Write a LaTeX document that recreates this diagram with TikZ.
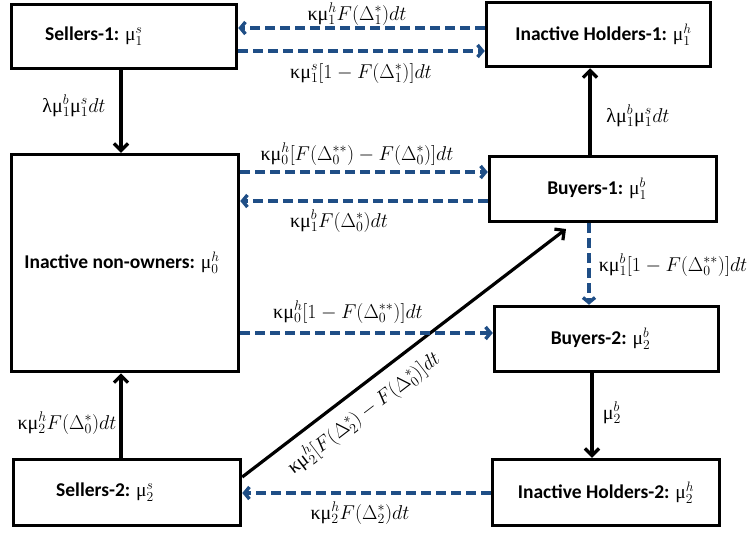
\RequirePackage{fix-cm}
\documentclass[tikz,border=0pt]{standalone}
\usepackage{fontspec}
\setmainfont{Carlito}
\newfontfamily\grk{Liberation Serif}
\usetikzlibrary{arrows.meta,calc}
\definecolor{dblue}{HTML}{1F4E86}
\newcommand\Gm{\mbox{\mdseries\grk μ}}
\newcommand\Gk{\mbox{\mdseries\grk κ}}
\newcommand\Gl{\mbox{\mdseries\grk λ}}
\tikzset{
  box/.style={draw=black, line width=3.5pt, fill=white, inner sep=0pt},
  boxtext/.style={font=\fontsize{19.5}{21}\selectfont\bfseries},
  lab/.style={font=\fontsize{20}{22}\selectfont, inner sep=1pt},
  solidarrow/.style={line width=3.2pt, -{Straight Barb[length=7pt,width=14pt]}},
  dasharrow/.style={line width=3.4pt, draw=dblue, dash pattern=on 10pt off 5pt, -{Straight Barb[length=5pt,width=12pt]}},
}
\begin{document}
\begin{tikzpicture}[x=1pt,y=-1pt]
\useasboundingbox (0,0) rectangle (753,536);
\fill[white] (0,0) rectangle (753,536);
% boxes
\node[box, minimum width=225pt, minimum height=64pt,
  label={[boxtext, xshift=-30pt]center:Sellers-1: $\Gm_1^s$}] (s1) at (124,36.5) {};
\node[box, minimum width=224pt, minimum height=64pt,
  label={[boxtext, xshift=5pt]center:Inactive Holders-1: $\Gm_1^h$}] (ih1) at (598.5,34.5) {};
\node[box, minimum width=227pt, minimum height=217pt,
  label={[boxtext, xshift=-3pt]center:Inactive non-owners: $\Gm_0^h$}] (no) at (125,263) {};
\node[box, minimum width=227pt, minimum height=65pt,
  label={[boxtext, xshift=-6pt]center:Buyers-1: $\Gm_1^b$}] (b1) at (603,189) {};
\node[box, minimum width=224pt, minimum height=65pt,
  label={[boxtext, xshift=-6pt]center:Buyers-2: $\Gm_2^b$}] (b2) at (606.5,339) {};
\node[box, minimum width=227pt, minimum height=66pt,
  label={[boxtext, xshift=-22pt]center:Sellers-2: $\Gm_2^s$}] (s2) at (127,492.5) {};
\node[box, minimum width=227pt, minimum height=66pt,
  label={[boxtext, xshift=0pt]center:Inactive Holders-2: $\Gm_2^h$}] (ih2) at (606,492.5) {};

% solid arrows
\draw[solidarrow] (s1.south -| 121,0) -- (no.north -| 121,0);
\draw[solidarrow] (b1.north -| 590,0) -- (ih1.south -| 590,0);
\draw[solidarrow] (s2.north -| 121,0) -- (no.south -| 121,0);
\draw[solidarrow] (b2.south -| 592,0) -- (ih2.north -| 592,0);
\coordinate (dstart) at (s2.east |- 0,477);
\coordinate (dend) at (566,229);
\draw[solidarrow] (dstart) -- coordinate[pos=0.332] (dm) (dend);
\node[lab, rotate=37.4] (ldiag) at ($(dm)+(14,18.3)$) {$\Gk\Gm_2^h[F(\Delta_2^*)-F(\Delta_0^*)]dt$};

% dashed arrows
\draw[dasharrow] (ih1.west |- 0,28) -- (s1.east |- 0,28);
\draw[dasharrow] (s1.east |- 0,51) -- (ih1.west |- 0,51);
\draw[dasharrow] (no.east |- 0,172) -- (b1.west |- 0,172);
\draw[dasharrow] (b1.west |- 0,201) -- (no.east |- 0,201);
\draw[dasharrow] (b1.south -| 589,0) -- (b2.north -| 589,0);
\draw[dasharrow] (no.east |- 0,333) -- (b2.west |- 0,333);
\draw[dasharrow] (ih2.west |- 0,493) -- (s2.east |- 0,493);

% labels
\node[lab] (l1) at (74,106) {$\Gl\Gm_1^b\Gm_1^s dt$};
\node[lab] (l2) at (357,14) {$\Gk\Gm_1^h F(\Delta_1^*)dt$};
\node[lab] (l3) at (361,73) {$\Gk\Gm_1^s[1-F(\Delta_1^*)]dt$};
\node[lab] (l4) at (638,116) {$\Gl\Gm_1^b\Gm_1^s dt$};
\node[lab] (l5) at (357,154) {$\Gk\Gm_0^h[F(\Delta_0^{**})-F(\Delta_0^*)]dt$};
\node[lab] (l6) at (339,221) {$\Gk\Gm_1^b F(\Delta_0^*)dt$};
\node[lab] (l7) at (673,265) {$\Gk\Gm_1^b[1-F(\Delta_0^{**})]dt$};
\node[lab] (l8) at (348,312) {$\Gk\Gm_0^h[1-F(\Delta_0^{**})]dt$};
\node[lab] (l9) at (67,423) {$\Gk\Gm_2^h F(\Delta_0^*)dt$};
\node[lab] (l10) at (612,413) {$\Gm_2^b$};
\node[lab] (l11) at (360,513) {$\Gk\Gm_2^h F(\Delta_2^*)dt$};
\end{tikzpicture}
\end{document}
